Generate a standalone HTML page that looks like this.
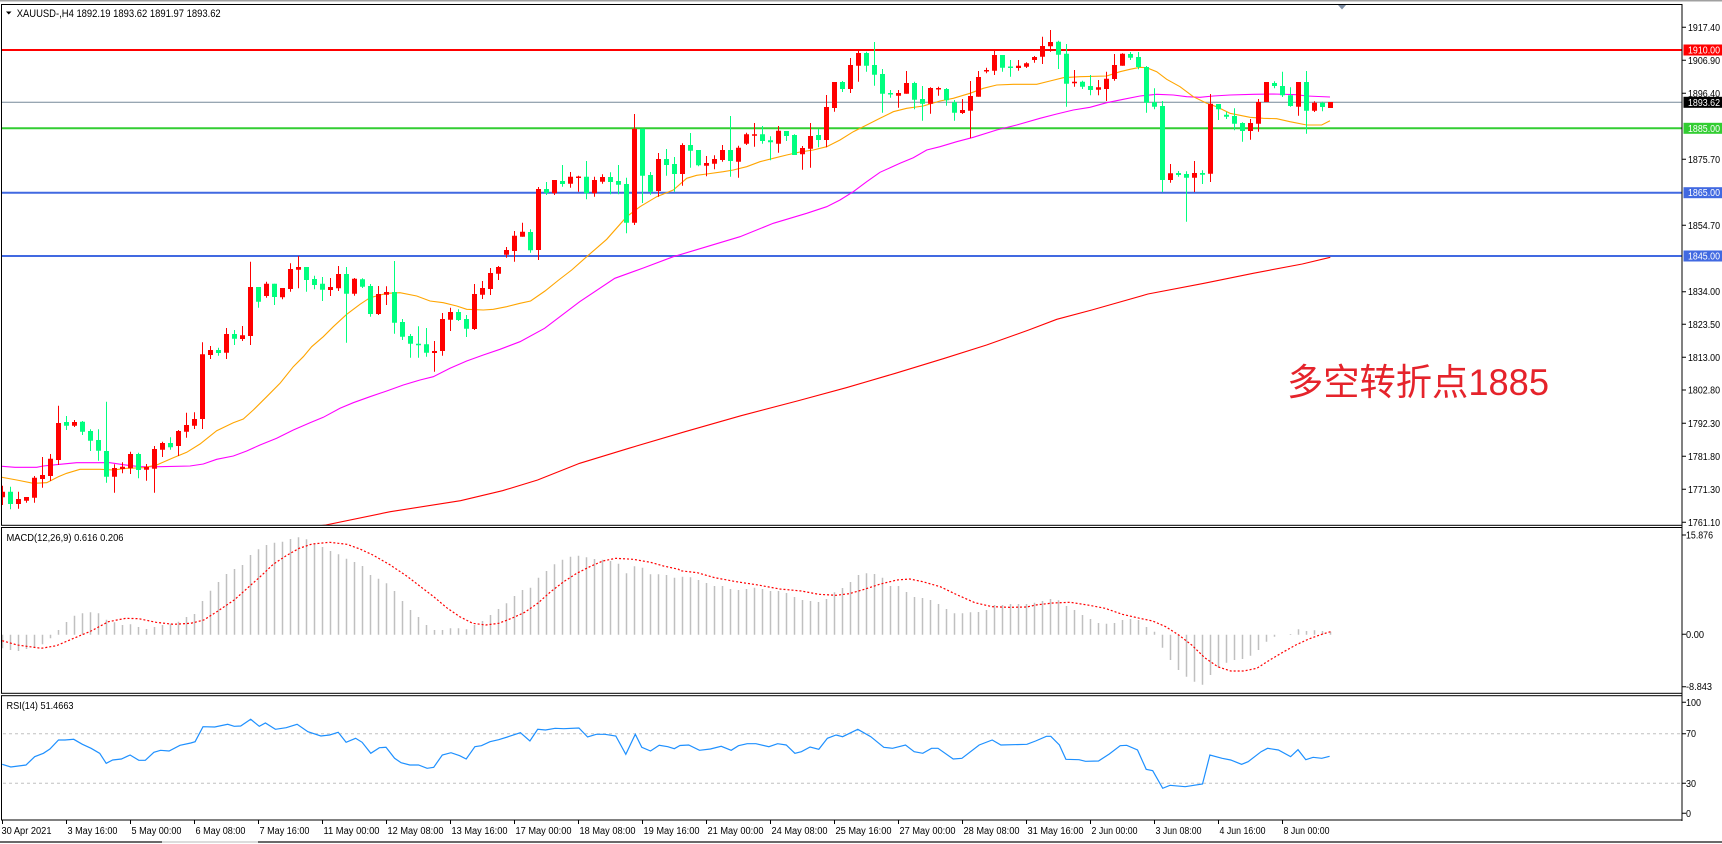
<!DOCTYPE html>
<html><head><meta charset="utf-8"><style>
html,body{margin:0;padding:0;background:#fff;}
svg{display:block;}
text{font-family:"Liberation Sans","Noto Sans CJK SC",sans-serif;}
</style></head><body>
<svg width="1722" height="844" viewBox="0 0 1722 844" xmlns="http://www.w3.org/2000/svg">
<defs>
<clipPath id="cm"><rect x="2" y="5" width="1680" height="520"/></clipPath>
<clipPath id="cd"><rect x="2" y="528" width="1680" height="165"/></clipPath>
<clipPath id="cr"><rect x="2" y="696" width="1680" height="124"/></clipPath>
</defs>
<rect x="0" y="0" width="1722" height="844" fill="#fff"/>
<rect x="0" y="0" width="1722" height="1.5" fill="#a0a0a0"/>

<!-- main chart -->
<g clip-path="url(#cm)">
<line x1="0" y1="50" x2="1682" y2="50" stroke="#ff0000" stroke-width="2"/>
<line x1="0" y1="102.3" x2="1682" y2="102.3" stroke="#778899" stroke-width="1"/>
<line x1="0" y1="128.3" x2="1682" y2="128.3" stroke="#32cd32" stroke-width="2"/>
<line x1="0" y1="192.7" x2="1682" y2="192.7" stroke="#4169e1" stroke-width="2"/>
<line x1="0" y1="256" x2="1682" y2="256" stroke="#4169e1" stroke-width="2"/>

<polyline fill="none" stroke="#ff0000" stroke-width="1.1" points="270,532 325.8,525 390.3,511.7 460.5,500.7 502.5,490.7 537.6,480 579.7,463.3 628.8,448.3 685,431.7 741.1,415.7 797.2,401 846.3,387.7 895.4,373.3 944.5,358.3 986.6,345 1028.7,330 1056.8,319.3 1091.8,310 1148,294 1204,283.3 1253.2,273.3 1302.3,264 1330.3,257.3"/>
<polyline fill="none" stroke="#ff00ff" stroke-width="1.1" points="1.7,466.3 15,467.3 36.7,467.3 43.3,466 60,464.3 76.7,462.7 110,462.7 123.3,464.7 140,466.7 160,466.7 190,466 203.3,464 216.7,459.3 233.3,456 246.7,451 260,445 276.7,438.3 293.3,430 310,422.7 323.3,417.3 340,408.3 353.3,402.7 370,396.7 386.7,391 403.3,385 420,380 433.3,376.7 450,368.3 466.7,361 483.3,355 500,349.3 520,341.7 544.6,328.3 579.7,301.7 614.8,278.3 643.3,268 673.3,256.7 706.7,246.7 740,236.7 773.3,223.3 806.7,213.3 826.7,206.7 840,200 853.3,191.7 866.7,181.7 880,172.3 900,163.3 913.3,157.7 926.7,150 940,146.7 956.7,141.7 973.3,137.3 996.7,130 1016.7,125 1040,118.3 1056.7,114 1073.3,110 1090,107.3 1106.7,102.7 1123.3,99.3 1140,96 1156.7,94.3 1173.3,95 1186.7,96.7 1200,97.3 1213.3,96 1230,95 1253.3,94.3 1273.3,94 1296.7,94.7 1306.7,96 1330,97"/>
<polyline fill="none" stroke="#ffa500" stroke-width="1.1" points="1.7,477.3 16.7,480 33.3,483.3 46.7,482.7 58.3,476.7 66.7,473.3 80,469.3 100,469.3 113.3,470 126.7,468.3 143.3,467.7 156.7,465 173.3,457.7 186.7,452.3 200,444 216.7,430.7 233.3,422.7 243.3,419 253.3,410 266.7,396.7 280,383.3 293.3,366.7 303.3,356.7 311.7,346.7 323.3,336.7 333.3,326.7 346.7,314.3 360,304.3 370,297.7 386.7,293.3 400,292.7 416.7,296 430,301 443.3,302.7 456.7,306 466.7,309.3 483.3,310 493.3,309.3 506.7,306.7 520,303.3 530.6,301 545,291 558.7,280 571.7,270 586.7,256.7 606.7,239.3 626.7,216.7 640,206.7 656.7,196.7 673.3,190 686.7,178.3 696.7,175.3 706.7,174 723.3,171.7 733.3,170 746.7,166.7 760,161.7 773.3,158.3 786.7,155 800,152 813.3,150 826.7,146.7 840,140 853.3,131.7 866.7,125 880,118.3 893.3,111.7 906.7,108.3 923.3,106 940,101 953.3,98.3 970,93.3 983.3,88.3 996.7,85 1013.3,84.3 1036.7,84.3 1050,81 1063.3,77.7 1080,76.7 1106.7,76 1120,71.7 1130,69.3 1140,67.3 1146.7,67.7 1156.7,71.7 1166.7,79.3 1180,86.7 1193.3,96.7 1206.7,103.3 1216.7,106.7 1230,113.3 1250,117.3 1263.3,118.3 1276.7,118.7 1290,121.7 1306.7,125 1321.7,125 1330,120.7"/>

<!-- red wicks -->
<path fill="none" stroke="#ff0000" stroke-width="1" d="M2.5 485.7V505M18.5 491.7V508.7M26.5 497V502.7M34.5 476V502.7M42.5 457V487.7M50.5 454V481M58.5 405.7V465M74.5 420V427M114.5 464.3V492.7M122.5 462.3V473.3M130.5 451.7V474M146.5 464V480.7M154.5 446V492.7M162.5 441.7V457M178.5 430V456M186.5 412.7V437.7M194.5 412.3V429M202.5 342.3V429M210.5 346V359M226.5 328V359M242.5 326V341M250.5 261.7V345M266.5 281.7V297.7M282.5 288V299.3M290.5 263.3V291.7M298.5 256V288.3M330.5 278V296M338.5 266V291M354.5 278V295.7M378.5 286V315M386.5 286.3V305M434.5 341V371.7M442.5 313V355.7M450.5 307.7V331M474.5 284V330M482.5 281V299M490.5 268V295M498.5 266V280M506.5 247V257.7M514.5 231V261.7M522.5 222.7V236.7M538.5 187V260M554.5 180V195M570.5 172V187.7M578.5 175.7V191.7M594.5 176.7V196.7M602.5 174.3V183.7M634.5 114V225M658.5 153V196.7M682.5 143.3V185.7M706.5 156V176.3M714.5 155.3V169.3M722.5 145V161.7M738.5 145.7V177.7M746.5 132.7V145M754.5 123V146.7M778.5 126V152.7M802.5 146V169.7M810.5 123V167.7M826.5 95V147.3M834.5 82V111.7M850.5 58V93M858.5 50V81.7M898.5 90V107.7M906.5 71V93.7M930.5 87.3V113.7M938.5 86.7V95.7M962.5 99V114M970.5 81V138.3M978.5 71V96.7M986.5 67.7V73.3M994.5 50.3V75M1018.5 60V70.7M1026.5 62.3V68M1034.5 56V62.7M1042.5 36.7V64M1050.5 30V51.7M1074.5 70V86.7M1098.5 80V95.3M1106.5 71.7V101M1114.5 54V80.7M1122.5 53.3V65.7M1170.5 164V182.7M1194.5 161V192M1210.5 94V182M1250.5 119V139.7M1258.5 99V131.7M1266.5 82V102M1298.5 82V115.7M1314.5 101.3V112M1330.5 102V108"/>
<!-- red bodies -->
<path fill="#ff0000" d="M0 491.7h5V497.3h-5zM16 499h5V504h-5zM24 497h5V500.7h-5zM32 477.7h5V497.7h-5zM40 475h5V479h-5zM48 458.7h5V476h-5zM56 423h5V460h-5zM72 422h5V425.7h-5zM112 468h5V476.7h-5zM120 466.7h5V469h-5zM128 454h5V468.3h-5zM144 467h5V469.7h-5zM152 449h5V468.7h-5zM160 443h5V449.7h-5zM176 431h5V446h-5zM184 425h5V431.7h-5zM192 419h5V425.7h-5zM200 354.3h5V419h-5zM208 350h5V355h-5zM224 334h5V352.7h-5zM240 335.3h5V339h-5zM248 287h5V336h-5zM264 283.7h5V296h-5zM280 288h5V297.3h-5zM288 269h5V289h-5zM296 267h5V269.7h-5zM328 287h5V290h-5zM336 274h5V288.3h-5zM352 278.7h5V293.7h-5zM376 294h5V314h-5zM384 292h5V294.7h-5zM432 351h5V353h-5zM440 319h5V351h-5zM448 312h5V319.7h-5zM472 294h5V329h-5zM480 288h5V294.7h-5zM488 273h5V289h-5zM496 267h5V273.7h-5zM504 250h5V254.7h-5zM512 235.7h5V251h-5zM520 231.7h5V236.7h-5zM536 189h5V250h-5zM552 180h5V193.3h-5zM568 176.7h5V183.7h-5zM576 176.5h5V178h-5zM592 180h5V193.3h-5zM600 177h5V181.7h-5zM632 128.7h5V222.7h-5zM656 159h5V191h-5zM680 145h5V174h-5zM704 163h5V165.7h-5zM712 159h5V163.7h-5zM720 150h5V160h-5zM736 147.7h5V161.7h-5zM744 134.3h5V143.7h-5zM752 134.3h5V135.7h-5zM776 130.7h5V143.7h-5zM800 148h5V154.3h-5zM808 136h5V148.7h-5zM824 107h5V140h-5zM832 82h5V108h-5zM848 65h5V89h-5zM856 53h5V65.7h-5zM896 93h5V95.7h-5zM904 83h5V93.7h-5zM928 88h5V103.7h-5zM936 88h5V89.5h-5zM960 110h5V113h-5zM968 96h5V110.7h-5zM976 77h5V96.7h-5zM984 70h5V71.5h-5zM992 55h5V70.7h-5zM1016 65.7h5V68h-5zM1024 63.3h5V66.7h-5zM1032 57h5V60h-5zM1040 46h5V56.7h-5zM1048 42h5V46.3h-5zM1072 81.7h5V83.3h-5zM1096 87.3h5V89.7h-5zM1104 78.7h5V89h-5zM1112 65h5V79h-5zM1120 53.7h5V65.7h-5zM1168 173.3h5V180h-5zM1192 173h5V177.7h-5zM1208 103.7h5V173.7h-5zM1248 123h5V131h-5zM1256 102h5V123.7h-5zM1264 82h5V102h-5zM1296 82h5V106.7h-5zM1312 102.7h5V110.7h-5zM1328 102h5V108h-5z"/>
<!-- green wicks -->
<path fill="none" stroke="#00ff7f" stroke-width="1" d="M10.5 486.7V509.3M66.5 416V430M82.5 421V435M90.5 429.3V451M98.5 429.3V460.7M106.5 401.7V482.7M138.5 452.7V478.3M170.5 437.3V449.7M218.5 347.7V355.7M234.5 330V345M258.5 287V307.7M274.5 283.7V305M306.5 267V291.7M314.5 275.7V289.3M322.5 277V301M346.5 267V342.7M362.5 278.3V288M370.5 284V316.7M394.5 261V333.7M402.5 319V340M410.5 334V357.7M418.5 326.3V357.7M426.5 328V356.7M458.5 309.3V321M466.5 315V337M530.5 229.3V252.7M546.5 182V195M562.5 165V186.7M586.5 161V199.3M610.5 172.3V194.3M618.5 165V194.3M626.5 177.7V233.3M642.5 128.7V203M650.5 172V194.7M666.5 149V175.7M674.5 157V191.7M690.5 133V167.7M698.5 150V166.3M730.5 116V176.7M762.5 126V143.7M770.5 136.3V160.3M786.5 131V141M794.5 134.3V155M818.5 129V147.3M842.5 81V92M866.5 51.7V71.7M874.5 42V85.7M882.5 69V112.7M890.5 90V97.7M914.5 81.7V109.3M922.5 86V120.7M946.5 88V105.7M954.5 100V120.7M1002.5 55V71.7M1010.5 60V76.7M1058.5 40.7V69M1066.5 44V106.7M1082.5 80.7V89M1090.5 75V95.3M1130.5 52V60M1138.5 52V69.3M1146.5 66V112.7M1154.5 88.3V109.3M1162.5 101V192M1178.5 171V176.7M1186.5 171.3V221.7M1202.5 170.3V184M1218.5 104V120M1226.5 111.7V119M1234.5 108.3V130.3M1242.5 122.3V141.7M1274.5 81.3V88.3M1282.5 71.7V97M1290.5 87.3V106.7M1306.5 71V133.7M1322.5 101.7V111.3"/>
<!-- green bodies -->
<path fill="#00ff7f" d="M8 491.7h5V504h-5zM64 422h5V425.7h-5zM80 421.7h5V431.7h-5zM88 431h5V440.7h-5zM96 440h5V450.7h-5zM104 451h5V476.7h-5zM136 454h5V470h-5zM168 443h5V447.3h-5zM216 350h5V353h-5zM232 334h5V338.7h-5zM256 287h5V301.7h-5zM272 283.7h5V297h-5zM304 267h5V280h-5zM312 279h5V285h-5zM320 283.7h5V289.7h-5zM344 274h5V293.7h-5zM360 279.3h5V286.7h-5zM368 286h5V314h-5zM392 292h5V322.7h-5zM400 322h5V336.7h-5zM408 336h5V343.7h-5zM416 343.8h5V345.2h-5zM424 344.3h5V352.7h-5zM456 312h5V320h-5zM464 319h5V328.7h-5zM528 232h5V250.3h-5zM544 189h5V192.7h-5zM560 181h5V184h-5zM584 176.7h5V193.3h-5zM608 177h5V182h-5zM616 181h5V184.7h-5zM624 184h5V222.7h-5zM640 128.7h5V175.7h-5zM648 175h5V191.7h-5zM664 159h5V165h-5zM672 164h5V174h-5zM688 145h5V150.7h-5zM696 150h5V165.3h-5zM728 150h5V161h-5zM760 134.3h5V141h-5zM768 140.3h5V142.3h-5zM784 131h5V136h-5zM792 135h5V155h-5zM816 135h5V140h-5zM840 82h5V89h-5zM864 53h5V65.7h-5zM872 65h5V74.7h-5zM880 74h5V93.7h-5zM888 93h5V94.5h-5zM912 83h5V99.7h-5zM920 99h5V103.7h-5zM944 89h5V100.3h-5zM952 102.3h5V112.7h-5zM1000 55h5V67.7h-5zM1008 66.5h5V68h-5zM1056 41.7h5V54.7h-5zM1064 53.7h5V83.7h-5zM1080 81.7h5V86.7h-5zM1088 86h5V90h-5zM1128 54h5V57.7h-5zM1136 57h5V67h-5zM1144 67h5V102.7h-5zM1152 102.3h5V106.7h-5zM1160 106h5V180h-5zM1176 173h5V175h-5zM1184 174h5V177.7h-5zM1200 173h5V174.7h-5zM1216 104h5V109.3h-5zM1224 114.7h5V116.7h-5zM1232 116h5V123.7h-5zM1240 123h5V131h-5zM1272 83h5V86h-5zM1280 86h5V95.3h-5zM1288 95.3h5V106h-5zM1304 82h5V110.7h-5zM1320 102.7h5V107h-5z"/>

<text x="1287" y="395" font-size="37" fill="#e5232b" textLength="262" lengthAdjust="spacingAndGlyphs">多空转折点1885</text>
</g>

<!-- header -->
<polygon points="6,11.5 11.5,11.5 8.75,14.5" fill="#000"/>
<text x="16.7" y="17" font-size="11" fill="#000" textLength="204" lengthAdjust="spacingAndGlyphs">XAUUSD-,H4  1892.19 1893.62 1891.97 1893.62</text>
<polygon points="1338,5 1346,5 1342,9.5" fill="#7f8fa6"/>

<!-- MACD panel -->
<g clip-path="url(#cd)">
<path fill="none" stroke="#c0c0c0" stroke-width="1.5" d="M2.5 634.7V648.3M10.5 634.7V650M18.5 634.7V651M26.5 634.7V649M34.5 634.7V647.3M42.5 634.7V644.3M50.5 634.7V638.3M58.5 634.7V630M66.5 634.7V622M74.5 634.7V615.7M82.5 634.7V613.3M90.5 634.7V612.3M98.5 634.7V613.3M106.5 634.7V619.7M114.5 634.7V622.3M122.5 634.7V625M130.5 634.7V624.3M138.5 634.7V627M146.5 634.7V629M154.5 634.7V627M162.5 634.7V625M170.5 634.7V623.7M178.5 634.7V621.7M186.5 634.7V617M194.5 634.7V614M202.5 634.7V601M210.5 634.7V590.7M218.5 634.7V582M226.5 634.7V574M234.5 634.7V569M242.5 634.7V565M250.5 634.7V555M258.5 634.7V549.3M266.5 634.7V545M274.5 634.7V542.7M282.5 634.7V541.7M290.5 634.7V539M298.5 634.7V537.3M306.5 634.7V539.3M314.5 634.7V543.3M322.5 634.7V547M330.5 634.7V551M338.5 634.7V554.3M346.5 634.7V558.7M354.5 634.7V562M362.5 634.7V566M370.5 634.7V575M378.5 634.7V578.7M386.5 634.7V583.3M394.5 634.7V591M402.5 634.7V601M410.5 634.7V610M418.5 634.7V617M426.5 634.7V625M434.5 634.7V630M442.5 634.7V630M450.5 634.7V628.3M458.5 634.7V628.3M466.5 634.7V629.3M474.5 634.7V625M482.5 634.7V621M490.5 634.7V615M498.5 634.7V609M506.5 634.7V603.3M514.5 634.7V596M522.5 634.7V590M530.5 634.7V587.7M538.5 634.7V577.7M546.5 634.7V571M554.5 634.7V564.3M562.5 634.7V559.7M570.5 634.7V556.7M578.5 634.7V555.7M586.5 634.7V557.3M594.5 634.7V559M602.5 634.7V559.7M610.5 634.7V561M618.5 634.7V563.7M626.5 634.7V573.3M634.5 634.7V566.3M642.5 634.7V567.7M650.5 634.7V574.3M658.5 634.7V574.3M666.5 634.7V575M674.5 634.7V577.7M682.5 634.7V576.7M690.5 634.7V577.3M698.5 634.7V580M706.5 634.7V583M714.5 634.7V586M722.5 634.7V586M730.5 634.7V589M738.5 634.7V590M746.5 634.7V589M754.5 634.7V587.7M762.5 634.7V589M770.5 634.7V591M778.5 634.7V591M786.5 634.7V593M794.5 634.7V597M802.5 634.7V600M810.5 634.7V601M818.5 634.7V602M826.5 634.7V599M834.5 634.7V592.3M842.5 634.7V588M850.5 634.7V582M858.5 634.7V575M866.5 634.7V573.3M874.5 634.7V574M882.5 634.7V577.7M890.5 634.7V586M898.5 634.7V586M906.5 634.7V592M914.5 634.7V597M922.5 634.7V598M930.5 634.7V600M938.5 634.7V604M946.5 634.7V609M954.5 634.7V613.3M962.5 634.7V613.3M970.5 634.7V612.3M978.5 634.7V612M986.5 634.7V610M994.5 634.7V605M1002.5 634.7V605M1010.5 634.7V604M1018.5 634.7V604M1026.5 634.7V604M1034.5 634.7V602.7M1042.5 634.7V601M1050.5 634.7V599M1058.5 634.7V600.3M1066.5 634.7V606M1074.5 634.7V610M1082.5 634.7V615M1090.5 634.7V619M1098.5 634.7V623M1106.5 634.7V623.7M1114.5 634.7V623M1122.5 634.7V620M1130.5 634.7V619M1138.5 634.7V620M1146.5 634.7V627M1154.5 634.7V631.7M1162.5 634.7V647.7M1170.5 634.7V660M1178.5 634.7V670M1186.5 634.7V676.7M1194.5 634.7V681.7M1202.5 634.7V684.7M1210.5 634.7V675M1218.5 634.7V667.7M1226.5 634.7V662.7M1234.5 634.7V660M1242.5 634.7V659M1250.5 634.7V655.7M1258.5 634.7V650M1266.5 634.7V641.7M1274.5 634.7V636.7M1290.5 634.7V634M1298.5 634.7V629.3M1306.5 634.7V631M1314.5 634.7V630.3M1322.5 634.7V631M1330.5 634.7V631.7"/>
<polyline fill="none" stroke="#ff0000" stroke-width="1.2" stroke-dasharray="2 2" points="2.2,640.7 17.3,645 41.2,648.3 56.4,645.7 73.7,638.3 91.1,631 108.4,621.7 125.8,618.3 138.8,618.7 156.1,622.3 173.5,624.3 190.8,623.3 203.8,620 216.8,611.7 234.2,600 247.2,588.3 260.2,576.7 273.2,564.3 286.2,555.7 299.2,548.3 312.2,544 329.6,542.3 346.9,544.3 359.9,549 372.9,555 390.3,565 407.6,576.7 420.6,586.7 433.7,596.7 446.7,607.7 459.7,616.7 472.7,623.3 485.7,625 498.7,623.3 511.7,618.3 524.7,612.3 537.7,603.3 550.7,591.7 563.7,581.7 576.8,573.3 589.8,566.7 602.8,561 615.8,558.3 633.1,559.3 650.5,562.3 663.5,566 678.7,569.3 680,570.7 697.3,572.7 714.7,577.7 736.4,581.7 758.1,585 779.7,589 801.4,591 818.8,594.3 836.1,595.3 849.1,593.7 862.1,590 879.5,584.3 896.8,580 909.8,579 922.8,581.7 940.2,586.7 957.5,595 974.9,602.7 992.2,606.7 1009.6,607.3 1026.9,607 1035.6,605 1052.9,603 1070.3,602.3 1087.6,605 1105,608.3 1122.3,614.3 1139.7,618.3 1152.7,621 1165.7,626.7 1178.7,635 1191.7,645 1204.7,657.7 1217.7,666.7 1230.7,671 1243.8,671 1256.8,668.3 1269.8,660 1282.8,652.3 1295.8,645 1308.8,639 1321.8,634.3 1330.5,631.7"/>
</g>
<text x="6.5" y="541" font-size="10.5" fill="#000" textLength="117" lengthAdjust="spacingAndGlyphs">MACD(12,26,9) 0.616 0.206</text>

<!-- RSI panel -->
<g clip-path="url(#cr)">
<line x1="3" y1="733.7" x2="1682" y2="733.7" stroke="#c0c0c0" stroke-width="1" stroke-dasharray="3 3"/>
<line x1="3" y1="783.3" x2="1682" y2="783.3" stroke="#c0c0c0" stroke-width="1" stroke-dasharray="3 3"/>
<polyline fill="none" stroke="#1e90ff" stroke-width="1.2" points="2.2,764.3 10.8,767 26,765 34.7,756.7 43.4,753.3 49.9,749 58.5,740 65,740 73.7,739.3 82.4,744.3 91.1,748.3 99.7,753.3 106.2,763.3 112.7,760 121.4,759 130.1,755 138.8,760.3 145.3,760.3 153.9,752.3 160.5,750.3 169.1,751 180,745.3 190.8,743 195.1,741.7 203,726.7 214.7,727 227.7,724.3 234.2,726.3 240.7,726 250.7,719.3 259.3,726.3 265.4,723 275.4,729.3 286.2,727.7 297.1,724.3 307.9,731.7 320.9,736 329.6,735 338.2,732.3 346.1,742.3 355.6,738.3 362.1,742.3 370.8,753.3 379.4,747.7 386,747.3 394.6,758.3 401.1,762.7 409.8,765 418.5,765 427.1,768.3 433.7,767.3 442.3,755 451,752.7 459.7,755.7 466.2,759 474.9,746.7 481.4,745.7 490,741.7 498.7,739.7 507.4,737 520.4,732.7 529.9,741 537.7,729.3 545.5,730 555.1,728.3 563.7,728.7 578.9,728 587.6,737 596.3,734.3 604.9,734.3 615.8,736 625.8,754.3 635.3,734.3 641.8,747.3 650.5,751 659.2,745.3 667.8,746.7 674.3,748.7 680,745.5 688.7,745 699.5,750.3 710.4,749 721.2,746.3 731.2,750.3 738.5,745.7 747.2,743.7 755.9,743.7 768.9,746.7 777.6,743.7 786.2,745 794.9,753.3 801.4,751.7 810.1,747 818.8,749.3 827.4,738.3 836.1,735 842.6,736.7 857.8,729.3 870.8,736.7 883.8,747.3 892.5,748.3 905.5,745 914.2,751.7 922.8,753.3 931.5,748.3 938,748.3 953.2,759 961.9,758.3 979.2,745 992.2,740 1000.9,745 1026.9,744.3 1035.6,741 1046.4,736.3 1050.8,736.3 1059.4,745 1065.9,759.3 1079,759.7 1085.5,761.3 1098.5,761 1109.3,754 1120.2,745.7 1126.7,745.3 1137.5,750 1146.2,769.3 1152.7,770.7 1162.7,788.3 1170,785.3 1185.2,786.7 1202.5,784 1209.9,755 1222.1,758.3 1230.7,760 1241.6,764.3 1248.1,761.7 1261.1,751.7 1267.6,748.3 1278.4,750 1290.6,756.7 1298,749.7 1305.8,759.7 1313.1,757.3 1321.8,758.3 1329.6,756.3"/>
</g>
<text x="6.5" y="709" font-size="10.5" fill="#000" textLength="67" lengthAdjust="spacingAndGlyphs">RSI(14) 51.4663</text>

<!-- frames -->
<g fill="none" stroke="#000" stroke-width="1">
<rect x="1.5" y="4.5" width="1680.5" height="520.8"/>
<rect x="1.5" y="527.5" width="1680.5" height="165.8"/>
<rect x="1.5" y="695.7" width="1680.5" height="124.3"/>
</g>
<line x1="1682" y1="4" x2="1682" y2="821" stroke="#000" stroke-width="1"/>

<!-- price axis -->
<g stroke="#000" stroke-width="1">
<path d="M1682 27.3h4M1682 60.3h4M1682 93.3h4M1682 159.3h4M1682 225.3h4M1682 291.7h4M1682 324.3h4M1682 357.3h4M1682 390h4M1682 423.3h4M1682 456.3h4M1682 489.3h4M1682 522.3h4M1682 535h4M1682 634.3h4M1682 686.7h4M1682 702.3h4M1682 733.7h4M1682 783.3h4M1682 813.3h4"/>
</g>
<g font-size="10" fill="#000">
<text x="1688" y="30.8" textLength="32" lengthAdjust="spacingAndGlyphs">1917.40</text>
<text x="1688" y="63.8" textLength="32" lengthAdjust="spacingAndGlyphs">1906.90</text>
<text x="1688" y="96.8" textLength="32" lengthAdjust="spacingAndGlyphs">1896.40</text>
<text x="1688" y="162.8" textLength="32" lengthAdjust="spacingAndGlyphs">1875.70</text>
<text x="1688" y="228.8" textLength="32" lengthAdjust="spacingAndGlyphs">1854.70</text>
<text x="1688" y="295.2" textLength="32" lengthAdjust="spacingAndGlyphs">1834.00</text>
<text x="1688" y="327.8" textLength="32" lengthAdjust="spacingAndGlyphs">1823.50</text>
<text x="1688" y="360.8" textLength="32" lengthAdjust="spacingAndGlyphs">1813.00</text>
<text x="1688" y="393.5" textLength="32" lengthAdjust="spacingAndGlyphs">1802.80</text>
<text x="1688" y="426.8" textLength="32" lengthAdjust="spacingAndGlyphs">1792.30</text>
<text x="1688" y="459.8" textLength="32" lengthAdjust="spacingAndGlyphs">1781.80</text>
<text x="1688" y="492.8" textLength="32" lengthAdjust="spacingAndGlyphs">1771.30</text>
<text x="1688" y="525.8" textLength="32" lengthAdjust="spacingAndGlyphs">1761.10</text>
<text x="1686" y="538.5" textLength="27" lengthAdjust="spacingAndGlyphs">15.876</text>
<text x="1686" y="637.8" textLength="18" lengthAdjust="spacingAndGlyphs">0.00</text>
<text x="1686" y="690.2" textLength="26" lengthAdjust="spacingAndGlyphs">-8.843</text>
<text x="1686" y="705.8" textLength="15" lengthAdjust="spacingAndGlyphs">100</text>
<text x="1686" y="737.2" textLength="10" lengthAdjust="spacingAndGlyphs">70</text>
<text x="1686" y="786.8" textLength="10" lengthAdjust="spacingAndGlyphs">30</text>
<text x="1686" y="816.8" textLength="5" lengthAdjust="spacingAndGlyphs">0</text>
</g>
<!-- colored price boxes -->
<rect x="1683.5" y="44.5" width="38.5" height="11" fill="#ff0000"/>
<rect x="1683.5" y="96.8" width="38.5" height="11" fill="#000"/>
<rect x="1683.5" y="122.8" width="38.5" height="11" fill="#32cd32"/>
<rect x="1683.5" y="187.2" width="38.5" height="11" fill="#4169e1"/>
<rect x="1683.5" y="250.5" width="38.5" height="11" fill="#4169e1"/>
<g font-size="10" fill="#fff">
<text x="1688" y="53.5" textLength="32" lengthAdjust="spacingAndGlyphs">1910.00</text>
<text x="1688" y="105.8" textLength="32" lengthAdjust="spacingAndGlyphs">1893.62</text>
<text x="1688" y="131.8" textLength="32" lengthAdjust="spacingAndGlyphs">1885.00</text>
<text x="1688" y="196.2" textLength="32" lengthAdjust="spacingAndGlyphs">1865.00</text>
<text x="1688" y="259.5" textLength="32" lengthAdjust="spacingAndGlyphs">1845.00</text>
</g>

<!-- time axis -->
<path stroke="#000" stroke-width="1" d="M2.5 820v4M66.5 820v4M130.5 820v4M194.5 820v4M258.5 820v4M322.5 820v4M386.5 820v4M450.5 820v4M514.5 820v4M578.5 820v4M642.5 820v4M706.5 820v4M770.5 820v4M834.5 820v4M898.5 820v4M962.5 820v4M1026.5 820v4M1090.5 820v4M1154.5 820v4M1218.5 820v4M1282.5 820v4"/>
<g font-size="10" fill="#000">
<text x="1.5" y="834" textLength="50" lengthAdjust="spacingAndGlyphs">30 Apr 2021</text>
<text x="67.5" y="834" textLength="50" lengthAdjust="spacingAndGlyphs">3 May 16:00</text>
<text x="131.5" y="834" textLength="50" lengthAdjust="spacingAndGlyphs">5 May 00:00</text>
<text x="195.5" y="834" textLength="50" lengthAdjust="spacingAndGlyphs">6 May 08:00</text>
<text x="259.5" y="834" textLength="50" lengthAdjust="spacingAndGlyphs">7 May 16:00</text>
<text x="323.5" y="834" textLength="56" lengthAdjust="spacingAndGlyphs">11 May 00:00</text>
<text x="387.5" y="834" textLength="56" lengthAdjust="spacingAndGlyphs">12 May 08:00</text>
<text x="451.5" y="834" textLength="56" lengthAdjust="spacingAndGlyphs">13 May 16:00</text>
<text x="515.5" y="834" textLength="56" lengthAdjust="spacingAndGlyphs">17 May 00:00</text>
<text x="579.5" y="834" textLength="56" lengthAdjust="spacingAndGlyphs">18 May 08:00</text>
<text x="643.5" y="834" textLength="56" lengthAdjust="spacingAndGlyphs">19 May 16:00</text>
<text x="707.5" y="834" textLength="56" lengthAdjust="spacingAndGlyphs">21 May 00:00</text>
<text x="771.5" y="834" textLength="56" lengthAdjust="spacingAndGlyphs">24 May 08:00</text>
<text x="835.5" y="834" textLength="56" lengthAdjust="spacingAndGlyphs">25 May 16:00</text>
<text x="899.5" y="834" textLength="56" lengthAdjust="spacingAndGlyphs">27 May 00:00</text>
<text x="963.5" y="834" textLength="56" lengthAdjust="spacingAndGlyphs">28 May 08:00</text>
<text x="1027.5" y="834" textLength="56" lengthAdjust="spacingAndGlyphs">31 May 16:00</text>
<text x="1091.5" y="834" textLength="46" lengthAdjust="spacingAndGlyphs">2 Jun 00:00</text>
<text x="1155.5" y="834" textLength="46" lengthAdjust="spacingAndGlyphs">3 Jun 08:00</text>
<text x="1219.5" y="834" textLength="46" lengthAdjust="spacingAndGlyphs">4 Jun 16:00</text>
<text x="1283.5" y="834" textLength="46" lengthAdjust="spacingAndGlyphs">8 Jun 00:00</text>
</g>

<!-- bottom bar -->
<rect x="0" y="841" width="1722" height="2" fill="#6a6a6a"/>
<rect x="162" y="841" width="96" height="2" fill="#dcdcdc"/>
</svg>
</body></html>
